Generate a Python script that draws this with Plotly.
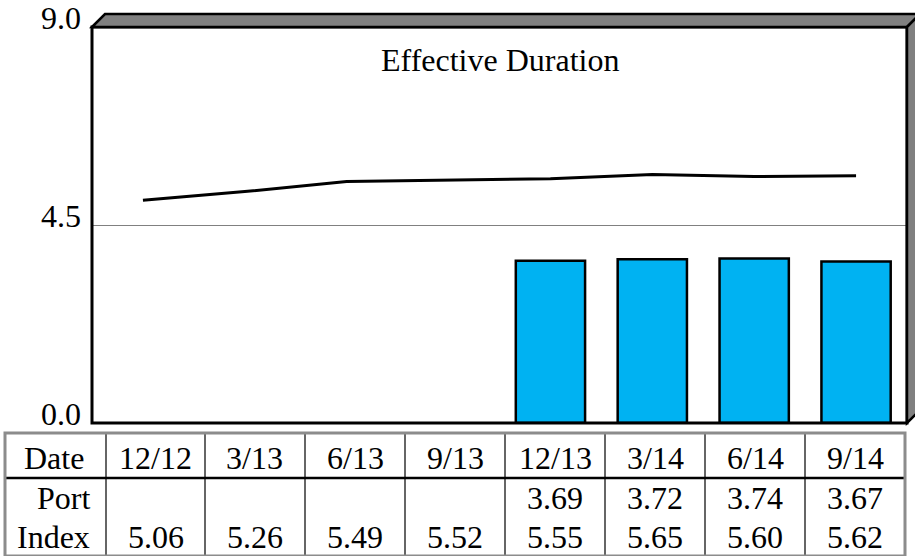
import plotly.graph_objects as go

# ---- data ----
dates = ["12/12", "3/13", "6/13", "9/13", "12/13", "3/14", "6/14", "9/14"]
port = [None, None, None, None, 3.69, 3.72, 3.74, 3.67]
index_vals = [5.06, 5.26, 5.49, 5.52, 5.55, 5.65, 5.60, 5.62]
y_ticks = [0.0, 4.5, 9.0]
row_labels = ["Date", "Port", "Index"]
chart_title = "Effective Duration"

# ---- layout helpers (pixel -> paper) ----
W, H = 915, 556
def px(x):
    return x / W
def py(y):
    return 1 - y / H

PL, PR, PT, PB = 92, 907, 27, 423
DEPTH = 13
FONT = "Liberation Serif"
FS = 32

fig = go.Figure()
fig.add_bar(x=dates, y=port, width=0.68,
            marker=dict(color="#00B2F2", line=dict(color="black", width=2.5)),
            showlegend=False)
fig.add_scatter(x=dates, y=index_vals, mode="lines",
                line=dict(color="black", width=3), showlegend=False)

shapes = []
shapes.append(dict(type="rect", xref="paper", yref="paper",
                   x0=px(PL), x1=px(PR), y0=py(PB), y1=py(PT),
                   line=dict(color="black", width=3), fillcolor="rgba(0,0,0,0)", layer="above"))
shapes.append(dict(type="path", xref="paper", yref="paper",
                   path=f"M {px(PL)},{py(PT)} L {px(PL+DEPTH)},{py(PT-DEPTH)} L {px(PR+DEPTH)},{py(PT-DEPTH)} L {px(PR)},{py(PT)} Z",
                   fillcolor="#808080", line=dict(color="black", width=2.5), layer="above"))
shapes.append(dict(type="path", xref="paper", yref="paper",
                   path=f"M {px(PR)},{py(PT)} L {px(PR+DEPTH)},{py(PT-DEPTH)} L {px(PR+DEPTH)},{py(PB-DEPTH)} L {px(PR)},{py(PB)} Z",
                   fillcolor="#808080", line=dict(color="black", width=2.5), layer="above"))

# ---- table ----
col_edges = [5, 106, 205, 305, 405, 505, 605, 705, 805, 905]
T_TOP, T_MID, T_BOT = 433, 478, 556
row_y = [458, 498, 537]
for xe in col_edges[1:-1]:
    shapes.append(dict(type="line", xref="paper", yref="paper",
                       x0=px(xe), x1=px(xe), y0=py(T_TOP), y1=py(T_BOT),
                       line=dict(color="#333333", width=1.5)))
shapes.append(dict(type="line", xref="paper", yref="paper",
                   x0=px(col_edges[0]), x1=px(col_edges[-1]), y0=py(T_MID), y1=py(T_MID),
                   line=dict(color="black", width=2.5)))
shapes.append(dict(type="rect", xref="paper", yref="paper",
                   x0=px(col_edges[0]), x1=px(col_edges[-1]), y0=py(T_BOT), y1=py(T_TOP),
                   line=dict(color="#8c8c8c", width=3), fillcolor="rgba(0,0,0,0)"))

annotations = []
annotations.append(dict(text=chart_title, xref="paper", yref="paper", x=px(500), y=py(60),
                        showarrow=False, xanchor="center", yanchor="middle",
                        font=dict(family=FONT, size=FS, color="black")))
# y tick labels (sitting just above their value, as in the reference)
for v in y_ticks:
    annotations.append(dict(text=f"{v:.1f}", xref="paper", yref="y", x=px(83), y=v,
                            yshift=9, showarrow=False, xanchor="right", yanchor="middle",
                            font=dict(family=FONT, size=FS, color="black")))
annotations.append(dict(text=row_labels[0], xref="paper", yref="paper",
                        x=px((col_edges[0] + col_edges[1]) / 2 - 2), y=py(row_y[0]),
                        showarrow=False, xanchor="center", yanchor="middle",
                        font=dict(family=FONT, size=FS, color="black")))
for lbl, yy in zip(row_labels[1:], row_y[1:]):
    annotations.append(dict(text=lbl, xref="paper", yref="paper", x=px(92), y=py(yy),
                            showarrow=False, xanchor="right", yanchor="middle",
                            font=dict(family=FONT, size=FS, color="black")))
rows = [dates,
        ["" if v is None else f"{v:.2f}" for v in port],
        [f"{v:.2f}" for v in index_vals]]
for r, (vals, yy) in enumerate(zip(rows, row_y)):
    for i, t in enumerate(vals):
        if not t:
            continue
        cx = (col_edges[i + 1] + col_edges[i + 2]) / 2
        annotations.append(dict(text=t, xref="paper", yref="paper", x=px(cx), y=py(yy),
                                showarrow=False, xanchor="center", yanchor="middle",
                                font=dict(family=FONT, size=FS, color="black")))

fig.update_layout(
    width=W, height=H, autosize=False,
    margin=dict(l=0, r=0, t=0, b=0, pad=0),
    paper_bgcolor="white", plot_bgcolor="white",
    shapes=shapes, annotations=annotations,
    xaxis=dict(domain=[px(PL), px(PR)], type="category", range=[-0.5, 7.5], automargin=False,
               showticklabels=False, showgrid=False, zeroline=False, showline=False, ticks=""),
    yaxis=dict(domain=[py(PB), py(PT)], range=[0, 9], tickvals=y_ticks, automargin=False,
               showticklabels=False,
               showgrid=True, gridcolor="#808080", gridwidth=1, zeroline=False, showline=False,
               ticks=""),
)

fig.write_html("out.html", config={"displayModeBar": False},
               post_script="document.body.style.margin='0';document.body.style.overflow='hidden';")
